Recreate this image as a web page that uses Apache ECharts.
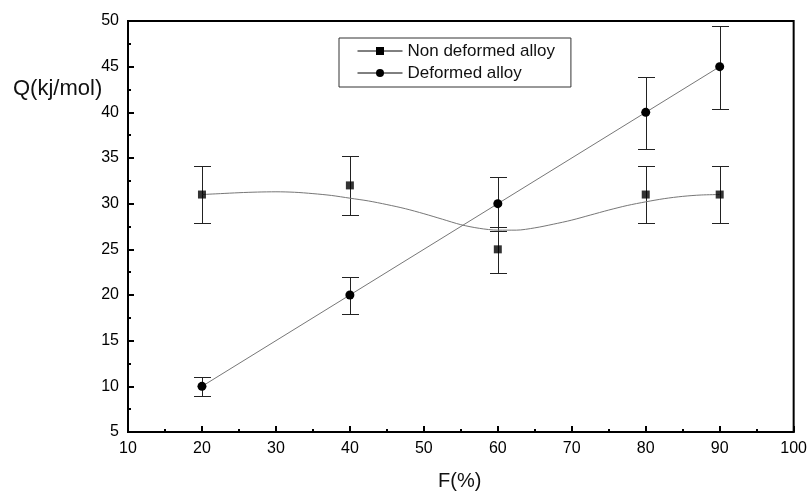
<!DOCTYPE html>
<html>
<head>
<meta charset="utf-8">
<script src="https://cdn.jsdelivr.net/npm/echarts@6/dist/echarts.min.js"></script>
<style>
html,body{margin:0;padding:0;background:#fff;}
#chart{width:810px;height:495px;}
</style>
</head>
<body>
<div id="chart"></div>
<script>
// ---- data ----
const xValues = [20, 40, 60, 80, 90];
const nonDeformed = [31, 32, 25, 31, 31];
const nonDefLow = [27.9, 28.8, 22.4, 27.9, 27.9];
const nonDefHigh = [34.1, 35.2, 27.45, 34.1, 34.1];
const deformed = [10, 20, 30, 40, 45];
const defLow = [8.95, 17.95, 27.0, 36.0, 40.4];
const defHigh = [11.0, 22.0, 32.9, 43.9, 49.4];
// smooth fitted curve through non-deformed alloy
const fitX = [20, 22.5, 25, 27.5, 30, 32.5, 35, 37.5, 40, 42.5, 45, 47.5, 50, 52.5, 55, 57.5, 60, 62.5, 65, 67.5, 70, 72.5, 75, 77.5, 80, 82.5, 85, 87.5, 90];
const fitY = [31.0, 31.1, 31.2, 31.27, 31.3, 31.25, 31.1, 30.9, 30.6, 30.3, 29.9, 29.45, 28.9, 28.3, 27.7, 27.3, 27.1, 27.1, 27.35, 27.75, 28.2, 28.75, 29.3, 29.8, 30.2, 30.55, 30.8, 30.95, 31.0];
const seriesNames = ['Non deformed alloy', 'Deformed alloy'];
const xTitle = 'F(%)';
const yTitle = 'Q(kj/mol)';

const FONT = '"Liberation Sans", Arial, sans-serif';
const zip = (a, b) => a.map((v, i) => [v, b[i]]);
const errData = (lo, hi) => xValues.map((x, i) => [x, lo[i], hi[i]]);

function errRender(params, api) {
  const x = api.value(0);
  const lo = api.coord([x, api.value(1)]);
  const hi = api.coord([x, api.value(2)]);
  const cx = Math.round(lo[0]) + 0.5;
  const y1 = Math.round(hi[1]) + 0.5;
  const y2 = Math.round(lo[1]) + 0.5;
  const w = 8.5;
  const st = {stroke: '#222', lineWidth: 1};
  return {
    type: 'group',
    children: [
      {type: 'line', shape: {x1: cx, y1: y1, x2: cx, y2: y2}, style: st},
      {type: 'line', shape: {x1: cx - w, y1: y1, x2: cx + w, y2: y1}, style: st},
      {type: 'line', shape: {x1: cx - w, y1: y2, x2: cx + w, y2: y2}, style: st}
    ]
  };
}

const chart = echarts.init(document.getElementById('chart'), null, {renderer: 'canvas'});
chart.setOption({
  animation: false,
  backgroundColor: '#fff',
  grid: {left: 128, right: 16, top: 21, bottom: 63, show: true, borderColor: '#000', borderWidth: 2, backgroundColor: 'transparent'},
  xAxis: {
    type: 'value', min: 10, max: 100, interval: 10,
    axisLine: {show: true, lineStyle: {color: '#000', width: 2}},
    axisTick: {show: true, inside: true, length: 6, lineStyle: {color: '#000', width: 2}},
    minorTick: {show: true, splitNumber: 2, length: 3, lineStyle: {color: '#000', width: 2}},
    splitLine: {show: false},
    axisLabel: {color: '#000', fontSize: 16, fontFamily: FONT, margin: 9}
  },
  yAxis: {
    type: 'value', min: 5, max: 50, interval: 5,
    axisLine: {show: true, lineStyle: {color: '#000', width: 2}},
    axisTick: {show: true, inside: true, length: 6, lineStyle: {color: '#000', width: 2}},
    minorTick: {show: true, splitNumber: 2, length: 3, lineStyle: {color: '#000', width: 2}},
    splitLine: {show: false},
    axisLabel: {color: '#000', fontSize: 16, fontFamily: FONT, margin: 9}
  },
  legend: {
    data: seriesNames,
    orient: 'vertical',
    left: 339, top: 38,
    padding: [4, 16, 5, 18],
    itemWidth: 45, itemHeight: 10, itemGap: 4,
    borderColor: '#333', borderWidth: 1,
    backgroundColor: '#fff',
    lineStyle: {color: '#000', width: 1},
    itemStyle: {color: '#000'},
    textStyle: {color: '#111', fontSize: 17, fontFamily: FONT, lineHeight: 18, padding: [0, 0, 0, 0]}
  },
  graphic: [
    {type: 'text', left: 13, top: 78, style: {text: yTitle, font: '22px ' + FONT, fill: '#111'}},
    {type: 'text', left: 438, top: 471, style: {text: xTitle, font: '20px ' + FONT, fill: '#111'}}
  ],
  series: [
    {
      name: seriesNames[0], type: 'line', data: zip(fitX, fitY), smooth: 0.3,
      symbol: 'rect', symbolSize: 8, showSymbol: false,
      lineStyle: {color: '#777', width: 1}, itemStyle: {color: '#000'}, z: 3
    },
    {
      name: seriesNames[1], type: 'line', data: zip(xValues, deformed),
      symbol: 'circle', symbolSize: 9, showSymbol: true,
      lineStyle: {color: '#777', width: 1}, itemStyle: {color: '#000'}, z: 4
    },
    {
      name: 'nd-points', type: 'scatter', data: zip(xValues, nonDeformed),
      symbol: 'rect', symbolSize: 8, itemStyle: {color: '#000'}, z: 5
    },
    {
      name: 'nd-err', type: 'custom', data: errData(nonDefLow, nonDefHigh),
      renderItem: errRender, z: 2, encode: {x: 0, y: [1, 2]}
    },
    {
      name: 'd-err', type: 'custom', data: errData(defLow, defHigh),
      renderItem: errRender, z: 2, encode: {x: 0, y: [1, 2]}
    }
  ]
});
</script>
</body>
</html>
